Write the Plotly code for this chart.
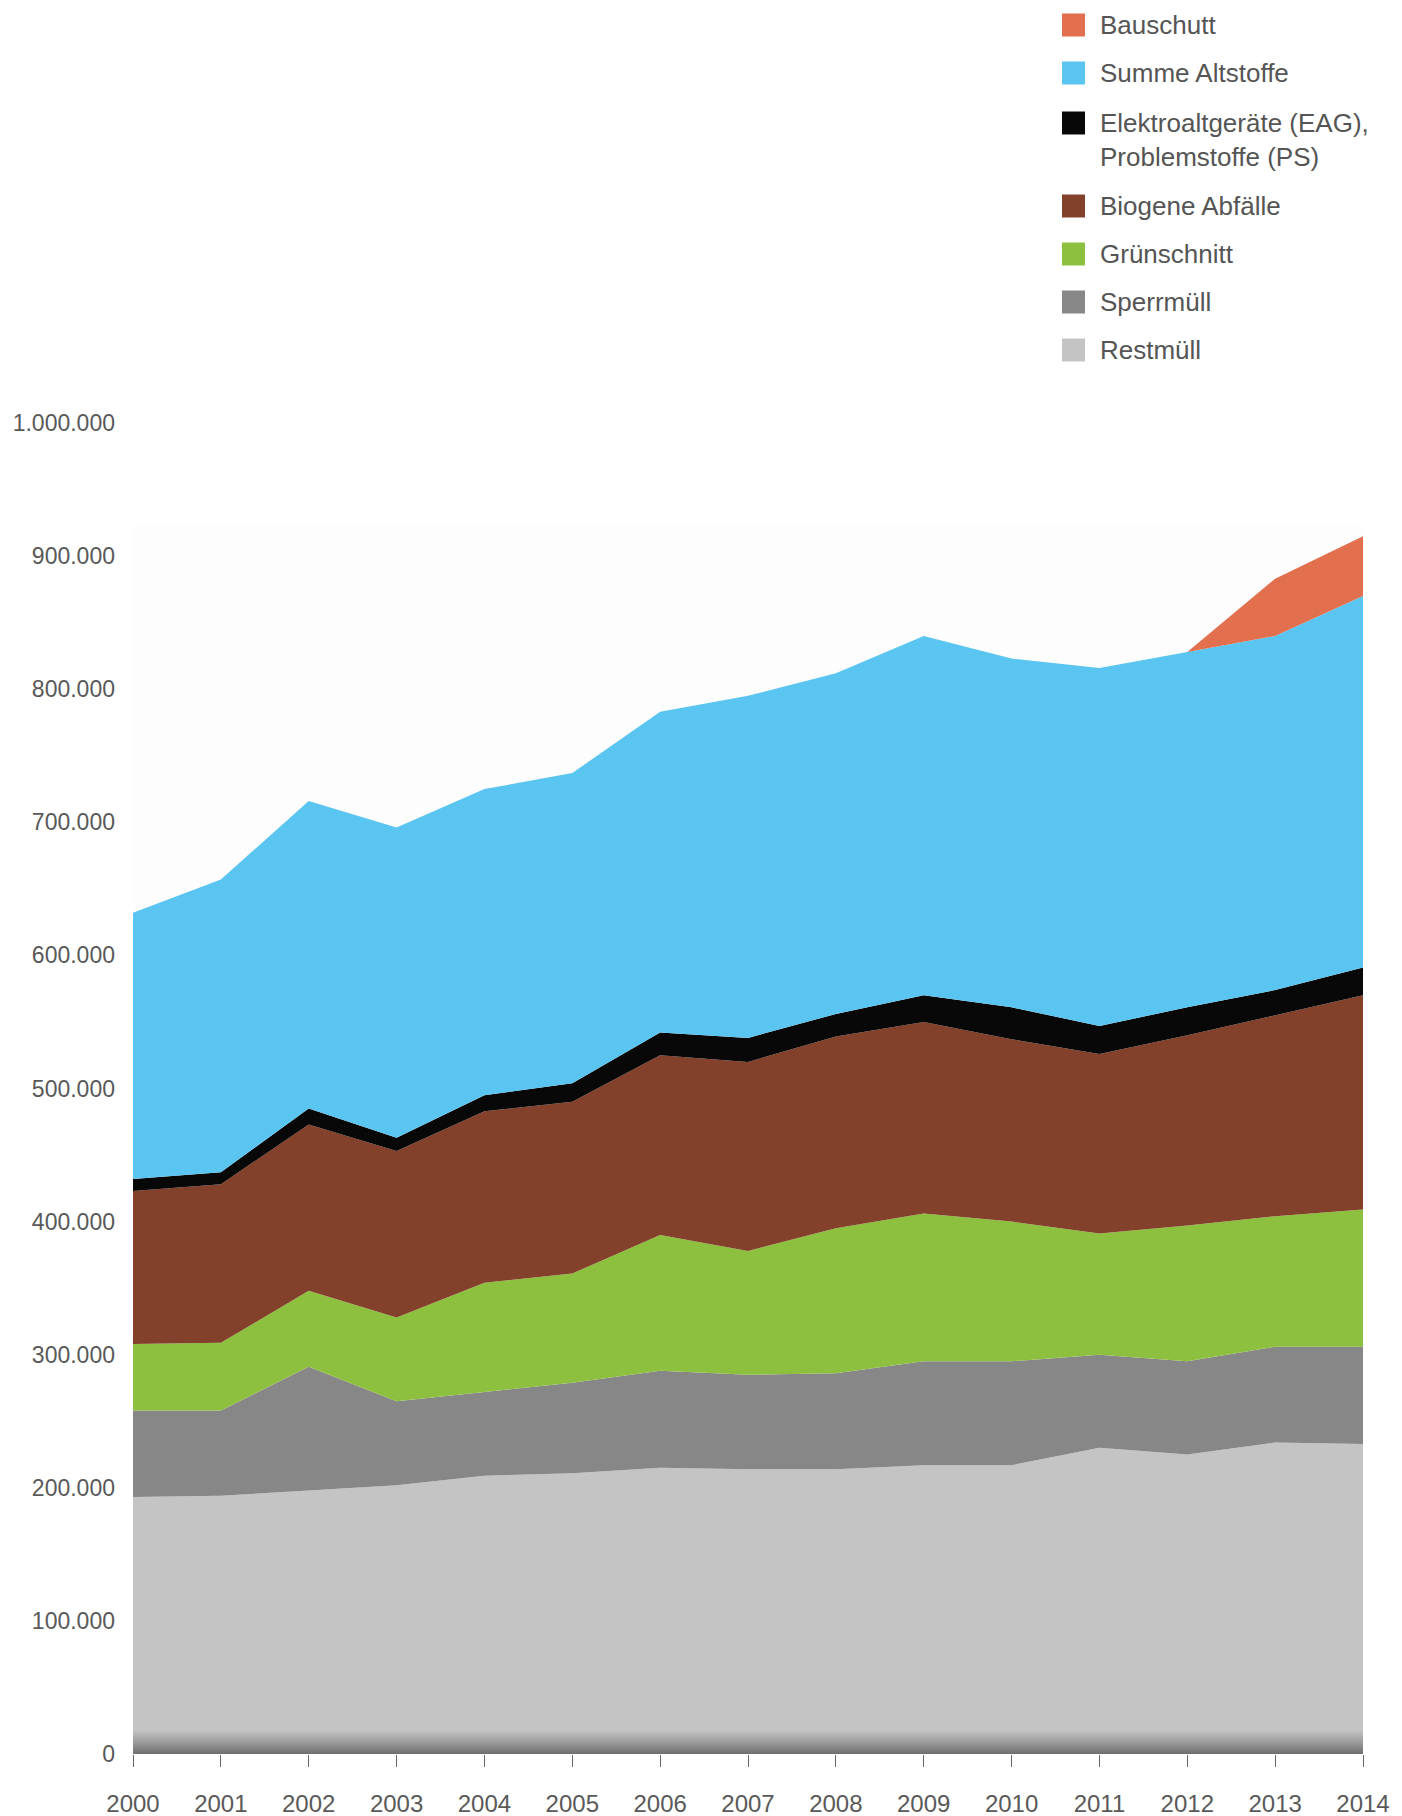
import plotly.graph_objects as go

years = list(range(2000, 2015))

restmuell = [193000, 194000, 198000, 202000, 209000, 211000, 215000, 214000,
             214000, 217000, 217000, 230000, 225000, 234000, 233000]
sperrmuell = [65000, 64000, 93000, 63000, 63000, 68000, 73000, 71000,
              72000, 78000, 78000, 70000, 70000, 72000, 73000]
gruenschnitt = [50000, 51000, 57000, 63000, 82000, 82000, 102000, 93000,
                109000, 111000, 105000, 91000, 102000, 98000, 103000]
biogene = [115000, 119000, 125000, 125000, 129000, 129000, 135000, 142000,
           144000, 144000, 137000, 135000, 143000, 151000, 161000]
eag_ps = [9000, 9000, 12000, 10000, 12000, 14000, 17000, 18000,
          17000, 20000, 24000, 21000, 21000, 19000, 21000]
altstoffe = [200000, 220000, 231000, 233000, 230000, 233000, 241000, 257000,
             256000, 270000, 262000, 269000, 267000, 266000, 279000]
bauschutt_years = [2012, 2013, 2014]
bauschutt = [0, 43000, 45000]

series_names = ["Restmüll", "Sperrmüll", "Grünschnitt", "Biogene Abfälle",
                "Elektroaltgeräte (EAG),<br>Problemstoffe (PS)",
                "Summe Altstoffe", "Bauschutt"]
colors = ["#c4c4c4", "#878787", "#8dc03e", "#83412b", "#080808", "#5bc5f2", "#e2704f"]

y_ticks = [0, 100000, 200000, 300000, 400000, 500000, 600000, 700000,
           800000, 900000, 1000000]

# page body has an 8px margin: shift the plot area up/left by it
OFF = 8
W, H = 1402, 1816
L = 133 - OFF
T = 423 - OFF
R = W - (1363 - OFF)
B = H - (1754 - OFF)

fig = go.Figure()
data_list = [restmuell, sperrmuell, gruenschnitt, biogene, eag_ps, altstoffe]
for i, vals in enumerate(data_list):
    kw = {}
    if i == 0:
        kw["fillgradient"] = dict(type="vertical", start=0, stop=18000,
                                  colorscale=[[0, "#6e6e6e"], [0.5, "#9c9c9c"],
                                              [1, "#c4c4c4"]])
    else:
        kw["fillcolor"] = colors[i]
    fig.add_trace(go.Scatter(
        x=years, y=vals, name=series_names[i], stackgroup="one",
        mode="lines", line=dict(width=0, color=colors[i]),
        showlegend=False, **kw))
fig.add_trace(go.Scatter(
    x=bauschutt_years, y=bauschutt, name=series_names[6], stackgroup="one",
    mode="lines", line=dict(width=0, color=colors[6]), fillcolor=colors[6],
    showlegend=False))

# manual legend (top right), positions given in page pixels
pw, ph = W - L - R, H - T - B
def px_x(p):
    return (p - OFF - L) / pw
def px_y(p):
    return (H - B - (p - OFF)) / ph

legend_order = [6, 5, 4, 3, 2, 1, 0]
legend_centers = [25, 73, 123, 206, 254, 302, 350]
for idx, cy in zip(legend_order, legend_centers):
    fig.add_shape(type="rect", xref="paper", yref="paper",
                  x0=px_x(1062), x1=px_x(1085), y0=px_y(cy + 11.5), y1=px_y(cy - 11.5),
                  fillcolor=colors[idx], line=dict(width=0))
    name = series_names[idx]
    two = "<br>" in name
    fig.add_annotation(xref="paper", yref="paper", x=px_x(1098),
                       y=px_y(cy + 17 if two else cy), text=name, showarrow=False,
                       xanchor="left", yanchor="middle", align="left",
                       font=dict(size=26, color="#555555"))

# faint plot panel
fig.add_shape(type="rect", xref="x", yref="y", x0=2000, x1=2014.1, y0=0, y1=923000,
              fillcolor="#fdfdfd", line=dict(width=0), layer="below")

fig.update_layout(
    width=W, height=H,
    margin=dict(l=L, r=R, t=T, b=B, pad=0, autoexpand=False),
    paper_bgcolor="white", plot_bgcolor="white",
    separators=",.",
    font=dict(family="Liberation Sans, Arial, sans-serif", color="#595959"),
    showlegend=False,
)
fig.update_xaxes(range=[2000, 2014], tickmode="array", tickvals=years,
                 ticktext=[str(y) for y in years], ticks="outside", ticklen=12,
                 tickcolor="#666666", tickwidth=1, showgrid=False, zeroline=False,
                 showline=False, tickfont=dict(size=24, color="#595959"),
                 ticklabelstandoff=16, automargin=False)
fig.update_yaxes(range=[0, 1000000], tickmode="array", tickvals=y_ticks,
                 tickformat=",d", showgrid=False, zeroline=False, showline=False,
                 tickfont=dict(size=23, color="#595959"), ticklabelstandoff=17,
                 automargin=False)

fig.write_html("out.html")
